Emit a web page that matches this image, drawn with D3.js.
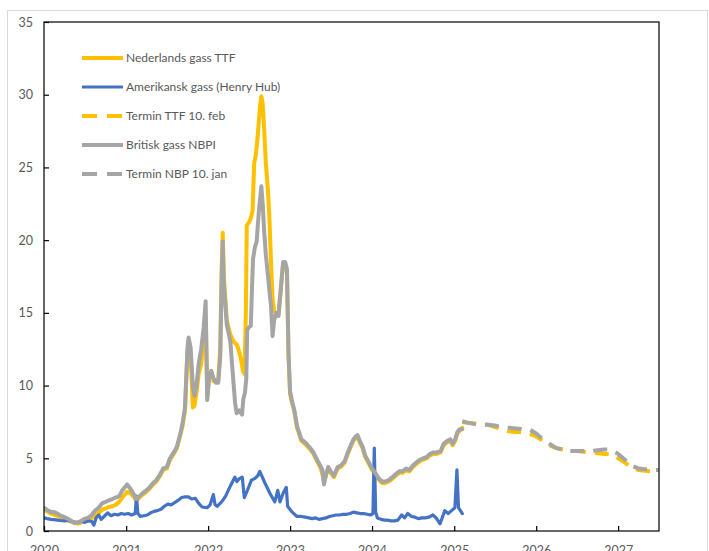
<!DOCTYPE html>
<html>
<head>
<meta charset="utf-8">
<script src="https://cdn.jsdelivr.net/npm/d3@7"></script>
<style>
  body { margin: 0; background: #fff; }
  svg { display: block; }
  text { font-family: Lato, "Open Sans", sans-serif; }
</style>
</head>
<body>
<svg id="chart" width="709" height="551"></svg>
<script>
// Dutch gas (TTF), spot
const ttf = [
  ["2020-01-01",1.45],["2020-01-15",1.35],["2020-02-01",1.2],["2020-02-15",1.1],["2020-03-01",1.05],["2020-03-15",0.95],
  ["2020-04-01",0.85],["2020-04-15",0.75],["2020-05-01",0.65],["2020-05-15",0.6],["2020-06-01",0.5],["2020-06-15",0.6],
  ["2020-07-01",0.65],["2020-07-15",0.75],["2020-08-01",0.9],["2020-08-15",1.05],["2020-09-01",1.25],["2020-09-15",1.45],
  ["2020-10-01",1.55],["2020-10-15",1.65],["2020-11-01",1.7],["2020-11-15",1.8],["2020-12-01",2.0],["2020-12-15",2.3],
  ["2021-01-05",2.7],["2021-01-20",2.6],["2021-02-01",2.4],["2021-02-15",2.1],["2021-03-01",2.3],["2021-03-15",2.5],
  ["2021-04-01",2.7],["2021-04-15",2.9],["2021-05-01",3.2],["2021-05-15",3.4],["2021-06-01",3.8],["2021-06-15",4.2],
  ["2021-07-01",4.3],["2021-07-15",4.9],["2021-08-01",5.3],["2021-08-15",5.7],["2021-09-01",6.7],["2021-09-10",7.3],
  ["2021-09-20",8.3],["2021-10-01",12.3],["2021-10-06",12.8],["2021-10-15",12.0],["2021-10-25",8.5],["2021-11-01",8.6],
  ["2021-11-10",9.5],["2021-11-20",10.8],["2021-12-01",11.5],["2021-12-12",13.0],["2021-12-21",14.8],["2021-12-28",9.3],
  ["2022-01-05",10.5],["2022-01-15",11.0],["2022-01-25",10.3],["2022-02-05",10.3],["2022-02-15",10.4],["2022-02-24",12.5],
  ["2022-03-02",18.0],["2022-03-07",20.5],["2022-03-12",17.5],["2022-03-25",14.5],["2022-04-10",13.5],["2022-04-25",13.0],
  ["2022-05-10",12.8],["2022-05-25",12.0],["2022-06-05",11.0],["2022-06-12",10.8],["2022-06-18",15.0],["2022-06-22",21.0],
  ["2022-07-01",21.2],["2022-07-10",21.5],["2022-07-18",22.0],["2022-07-25",25.3],["2022-08-01",25.8],["2022-08-10",27.2],
  ["2022-08-20",29.2],["2022-08-26",29.9],["2022-09-01",29.4],["2022-09-08",27.5],["2022-09-15",25.3],["2022-09-25",23.3],
  ["2022-10-01",21.5],["2022-10-08",18.5],["2022-10-15",16.0],["2022-10-22",15.1],["2022-11-01",15.0],["2022-11-10",14.8],
  ["2022-11-20",16.5],["2022-12-01",18.4],["2022-12-10",18.4],["2022-12-18",17.8],["2022-12-25",12.0],["2023-01-01",9.4],
  ["2023-01-10",8.8],["2023-01-20",8.2],["2023-02-01",7.1],["2023-02-10",6.7],["2023-02-20",6.2],["2023-03-01",6.1],
  ["2023-03-15",5.9],["2023-04-01",5.6],["2023-04-15",5.3],["2023-05-01",4.8],["2023-05-15",4.4],["2023-05-25",3.9],
  ["2023-06-01",3.4],["2023-06-10",3.8],["2023-06-20",4.3],["2023-07-01",4.0],["2023-07-15",3.7],["2023-08-01",4.3],
  ["2023-08-15",4.4],["2023-09-01",4.7],["2023-09-15",5.3],["2023-10-01",5.9],["2023-10-10",6.2],["2023-10-20",6.4],
  ["2023-10-28",6.5],["2023-11-10",6.0],["2023-11-20",5.7],["2023-12-01",5.1],["2023-12-15",4.7],["2024-01-01",4.2],
  ["2024-01-15",3.9],["2024-02-01",3.5],["2024-02-15",3.3],["2024-03-01",3.3],["2024-03-15",3.4],["2024-04-01",3.6],
  ["2024-04-15",3.8],["2024-05-01",4.0],["2024-05-15",4.0],["2024-06-01",4.2],["2024-06-15",4.1],["2024-07-01",4.4],
  ["2024-07-15",4.6],["2024-08-01",4.8],["2024-08-15",4.9],["2024-09-01",5.0],["2024-09-15",5.2],["2024-10-01",5.3],
  ["2024-10-15",5.3],["2024-11-01",5.4],["2024-11-15",5.9],["2024-12-01",6.1],["2024-12-15",6.2],["2024-12-25",5.9],
  ["2025-01-05",6.2],["2025-01-15",6.7],["2025-01-25",6.9],["2025-02-06",7.1]
];

// US gas (Henry Hub), spot
const henryHub = [
  ["2020-01-01",0.9],["2020-01-15",0.85],["2020-02-01",0.8],["2020-02-15",0.78],["2020-03-01",0.75],["2020-03-15",0.72],
  ["2020-04-01",0.7],["2020-04-15",0.72],["2020-05-01",0.68],["2020-05-15",0.62],["2020-06-01",0.6],["2020-06-15",0.65],
  ["2020-07-01",0.6],["2020-07-15",0.7],["2020-08-01",0.65],["2020-08-10",0.4],["2020-08-20",0.9],["2020-09-01",1.1],
  ["2020-09-12",0.8],["2020-09-25",1.0],["2020-10-10",1.25],["2020-10-25",1.05],["2020-11-10",1.15],["2020-11-25",1.1],
  ["2020-12-10",1.2],["2020-12-25",1.15],["2021-01-10",1.2],["2021-01-25",1.1],["2021-02-10",1.2],["2021-02-16",2.4],
  ["2021-02-22",1.2],["2021-03-05",1.0],["2021-03-20",1.05],["2021-04-05",1.1],["2021-04-20",1.25],["2021-05-05",1.35],
  ["2021-05-20",1.4],["2021-06-05",1.5],["2021-06-20",1.7],["2021-07-05",1.85],["2021-07-20",1.8],["2021-08-05",1.95],
  ["2021-08-20",2.1],["2021-09-05",2.3],["2021-09-20",2.35],["2021-10-05",2.35],["2021-10-20",2.2],["2021-11-05",2.25],
  ["2021-11-20",1.9],["2021-12-05",1.65],["2021-12-27",1.6],["2022-01-10",1.8],["2022-01-24",2.5],["2022-02-01",1.8],
  ["2022-02-10",1.7],["2022-03-02",2.0],["2022-03-20",2.4],["2022-04-07",3.0],["2022-04-20",3.4],["2022-04-30",3.7],
  ["2022-05-09",3.4],["2022-05-20",3.6],["2022-06-02",3.7],["2022-06-11",2.3],["2022-06-25",2.8],["2022-07-13",3.5],
  ["2022-07-27",3.6],["2022-08-10",3.8],["2022-08-19",4.1],["2022-09-11",3.3],["2022-10-03",2.6],["2022-10-25",2.0],
  ["2022-11-07",2.8],["2022-11-17",2.0],["2022-12-01",2.6],["2022-12-15",3.0],["2022-12-21",1.7],["2023-01-10",1.3],
  ["2023-02-01",1.0],["2023-02-20",1.0],["2023-03-10",0.95],["2023-03-25",0.9],["2023-04-10",0.85],["2023-04-25",0.9],
  ["2023-05-10",0.8],["2023-05-25",0.85],["2023-06-10",0.9],["2023-06-25",1.0],["2023-07-10",1.05],["2023-07-25",1.1],
  ["2023-08-10",1.1],["2023-08-25",1.15],["2023-09-10",1.15],["2023-09-25",1.2],["2023-10-10",1.3],["2023-10-25",1.25],
  ["2023-11-10",1.2],["2023-11-25",1.2],["2023-12-10",1.15],["2023-12-25",1.1],["2024-01-05",1.2],["2024-01-11",5.7],
  ["2024-01-17",1.3],["2024-01-25",0.9],["2024-02-10",0.8],["2024-02-25",0.75],["2024-03-10",0.75],["2024-03-25",0.7],
  ["2024-04-10",0.7],["2024-04-25",0.75],["2024-05-12",1.1],["2024-05-25",0.9],["2024-06-08",1.2],["2024-06-25",1.0],
  ["2024-07-10",0.95],["2024-07-25",0.85],["2024-08-10",0.9],["2024-08-25",0.9],["2024-09-10",0.95],["2024-09-28",1.1],
  ["2024-10-12",0.9],["2024-10-30",0.5],["2024-11-20",1.4],["2024-12-05",1.2],["2024-12-20",1.4],["2025-01-04",1.6],
  ["2025-01-13",4.2],["2025-01-20",1.6],["2025-02-06",1.2]
];

// British gas (NBP), spot
const nbp = [
  ["2020-01-01",1.6],["2020-01-15",1.45],["2020-02-01",1.3],["2020-02-15",1.3],["2020-03-01",1.2],["2020-03-15",1.05],
  ["2020-04-01",0.95],["2020-04-15",0.85],["2020-05-01",0.7],["2020-05-15",0.55],["2020-06-01",0.6],["2020-06-15",0.7],
  ["2020-07-01",0.85],["2020-07-15",0.9],["2020-08-01",1.1],["2020-08-15",1.4],["2020-09-01",1.6],["2020-09-15",1.9],
  ["2020-10-01",2.0],["2020-10-15",2.1],["2020-11-01",2.2],["2020-11-15",2.3],["2020-12-01",2.4],["2020-12-15",2.8],
  ["2021-01-05",3.2],["2021-01-20",2.9],["2021-02-01",2.6],["2021-02-15",2.2],["2021-03-01",2.4],["2021-03-15",2.6],
  ["2021-04-01",2.8],["2021-04-15",3.0],["2021-05-01",3.3],["2021-05-15",3.5],["2021-06-01",3.9],["2021-06-15",4.3],
  ["2021-07-01",4.4],["2021-07-15",5.0],["2021-08-01",5.4],["2021-08-15",5.8],["2021-09-01",6.8],["2021-09-10",7.5],
  ["2021-09-20",8.5],["2021-10-01",12.6],["2021-10-06",13.3],["2021-10-15",12.6],["2021-10-25",10.0],["2021-11-01",9.3],
  ["2021-11-10",10.0],["2021-11-20",11.5],["2021-12-01",12.5],["2021-12-12",14.0],["2021-12-21",15.8],["2021-12-28",9.0],
  ["2022-01-05",10.5],["2022-01-15",11.0],["2022-01-25",10.5],["2022-02-05",10.2],["2022-02-15",10.2],["2022-02-24",12.0],
  ["2022-03-02",17.0],["2022-03-07",19.9],["2022-03-12",17.0],["2022-03-25",14.2],["2022-04-10",13.0],["2022-04-20",11.0],
  ["2022-05-01",8.8],["2022-05-08",8.1],["2022-05-20",8.3],["2022-06-01",8.0],["2022-06-07",9.1],["2022-06-14",9.5],
  ["2022-06-20",10.5],["2022-06-24",13.8],["2022-07-01",14.0],["2022-07-10",14.1],["2022-07-15",16.5],["2022-07-20",18.7],
  ["2022-07-28",19.5],["2022-08-05",19.9],["2022-08-15",22.0],["2022-08-26",23.7],["2022-09-01",22.5],["2022-09-08",20.5],
  ["2022-09-15",19.0],["2022-09-25",17.5],["2022-10-01",16.5],["2022-10-08",15.5],["2022-10-15",13.4],["2022-10-22",14.5],
  ["2022-11-01",15.0],["2022-11-10",14.8],["2022-11-20",16.5],["2022-12-01",18.5],["2022-12-10",18.5],["2022-12-18",18.0],
  ["2022-12-25",12.2],["2023-01-01",9.6],["2023-01-10",8.9],["2023-01-20",8.3],["2023-02-01",7.2],["2023-02-10",6.8],
  ["2023-02-20",6.3],["2023-03-01",6.2],["2023-03-15",6.0],["2023-04-01",5.7],["2023-04-15",5.4],["2023-05-01",4.9],
  ["2023-05-15",4.5],["2023-05-25",4.2],["2023-06-01",3.2],["2023-06-10",3.9],["2023-06-20",4.4],["2023-07-01",4.1],
  ["2023-07-15",3.8],["2023-08-01",4.4],["2023-08-15",4.5],["2023-09-01",4.8],["2023-09-15",5.4],["2023-10-01",6.0],
  ["2023-10-10",6.3],["2023-10-20",6.5],["2023-10-28",6.6],["2023-11-10",6.1],["2023-11-20",5.8],["2023-12-01",5.2],
  ["2023-12-15",4.8],["2024-01-01",4.3],["2024-01-15",4.0],["2024-02-01",3.6],["2024-02-15",3.4],["2024-03-01",3.4],
  ["2024-03-15",3.5],["2024-04-01",3.7],["2024-04-15",3.9],["2024-05-01",4.1],["2024-05-15",4.1],["2024-06-01",4.3],
  ["2024-06-15",4.2],["2024-07-01",4.5],["2024-07-15",4.7],["2024-08-01",4.9],["2024-08-15",5.0],["2024-09-01",5.1],
  ["2024-09-15",5.3],["2024-10-01",5.4],["2024-10-15",5.4],["2024-11-01",5.5],["2024-11-15",6.0],["2024-12-01",6.2],
  ["2024-12-15",6.3],["2024-12-25",6.0],["2025-01-05",6.3],["2025-01-15",6.8],["2025-01-25",7.0],["2025-02-06",7.0]
];

// Forward curves
const ttfForward = [
  ["2025-02-06",7.5],["2025-03-01",7.45],["2025-04-01",7.4],["2025-05-01",7.35],["2025-06-01",7.3],["2025-07-01",7.15],
  ["2025-08-01",7.0],["2025-09-01",6.85],["2025-10-01",6.8],["2025-11-01",6.8],["2025-12-01",6.7],["2026-01-01",6.5],
  ["2026-02-01",6.2],["2026-03-01",5.9],["2026-04-01",5.7],["2026-05-01",5.6],["2026-06-01",5.5],["2026-07-01",5.5],
  ["2026-08-01",5.45],["2026-09-01",5.4],["2026-10-01",5.35],["2026-11-01",5.3],["2026-12-01",5.3],["2027-01-01",5.0],
  ["2027-02-01",4.7],["2027-03-01",4.35],["2027-04-01",4.2],["2027-05-01",4.15],["2027-06-01",4.1],["2027-07-01",4.1]
];
const nbpForward = [
  ["2025-02-06",7.55],["2025-03-01",7.45],["2025-04-01",7.35],["2025-05-01",7.3],["2025-06-01",7.3],["2025-07-01",7.25],
  ["2025-08-01",7.15],["2025-09-01",7.1],["2025-10-01",7.05],["2025-11-01",7.0],["2025-12-01",7.0],["2026-01-01",6.7],
  ["2026-02-01",6.3],["2026-03-01",6.0],["2026-04-01",5.7],["2026-05-01",5.6],["2026-06-01",5.5],["2026-07-01",5.5],
  ["2026-08-01",5.5],["2026-09-01",5.5],["2026-10-01",5.55],["2026-11-01",5.6],["2026-12-01",5.6],["2027-01-01",5.3],
  ["2027-02-01",4.9],["2027-03-01",4.5],["2027-04-01",4.3],["2027-05-01",4.25],["2027-06-01",4.2],["2027-07-01",4.2]
];

const yTicks = [0, 5, 10, 15, 20, 25, 30, 35];
const yearTicks = ["2020","2021","2022","2023","2024","2025","2026","2027"];

const seriesInfo = [
  { label: "Nederlands gass TTF",         data: ttf,        color: "#FFC000", width: 4,   dash: null },
  { label: "Amerikansk gass (Henry Hub)", data: henryHub,   color: "#4472C4", width: 3.2, dash: null },
  { label: "Termin TTF 10. feb",          data: ttfForward, color: "#FFC000", width: 4,   dash: "14,9" },
  { label: "Britisk gass NBPI",           data: nbp,        color: "#A5A5A5", width: 4,   dash: null },
  { label: "Termin NBP 10. jan",          data: nbpForward, color: "#A5A5A5", width: 4,   dash: "14,9" }
];

const svg = d3.select("#chart");
const plot = { left: 44, top: 22, right: 659, bottom: 531 };
const parse = d3.timeParse("%Y-%m-%d");

const x = d3.scaleTime()
  .domain([new Date(2020, 0, 1), new Date(2027, 6, 2)])
  .range([plot.left, plot.right]);
const y = d3.scaleLinear().domain([0, 35]).range([plot.bottom, plot.top]);

// outer frame
svg.append("rect")
  .attr("x", 7.5).attr("y", 10.5).attr("width", 700).attr("height", 600)
  .attr("fill", "#fff").attr("stroke", "#d9d9d9").attr("stroke-width", 1);

svg.append("clipPath").attr("id", "plotClip")
  .append("rect")
  .attr("x", plot.left).attr("y", plot.top)
  .attr("width", plot.right - plot.left).attr("height", plot.bottom - plot.top);

// series
const line = d3.line()
  .x(d => x(parse(d[0])))
  .y(d => y(d[1]));

const lines = svg.append("g").attr("clip-path", "url(#plotClip)");
seriesInfo.forEach(s => {
  lines.append("path")
    .datum(s.data)
    .attr("d", line)
    .attr("fill", "none")
    .attr("stroke", s.color)
    .attr("stroke-width", s.width)
    .attr("stroke-linejoin", "round")
    .attr("stroke-linecap", s.dash ? "butt" : "round")
    .attr("stroke-dasharray", s.dash);
});

// plot frame
svg.append("rect")
  .attr("x", plot.left).attr("y", plot.top)
  .attr("width", plot.right - plot.left).attr("height", plot.bottom - plot.top)
  .attr("fill", "none").attr("stroke", "#000").attr("stroke-width", 1.2);

// axes
const yAxis = d3.axisLeft(y).tickValues(yTicks).tickSize(-5).tickPadding(11).tickFormat(d3.format("d"));
const yG = svg.append("g").attr("transform", `translate(${plot.left},0)`).call(yAxis);

const xAxis = d3.axisBottom(x)
  .tickValues(yearTicks.map(t => new Date(+t, 0, 1)))
  .tickSize(-5).tickPadding(15).tickFormat(d3.timeFormat("%Y"));
const xG = svg.append("g").attr("transform", `translate(0,${plot.bottom})`).call(xAxis);

[yG, xG].forEach(g => {
  g.select(".domain").remove();
  g.selectAll(".tick line").attr("stroke", "#000").attr("stroke-width", 1.2);
  g.selectAll(".tick text")
    .attr("fill", "#595959")
    .style("font-family", "Lato, 'Open Sans', sans-serif")
    .style("font-size", "12.5px");
});

// legend
const legend = svg.append("g");
const legendY = [58, 87, 116, 145, 174];
seriesInfo.forEach((s, i) => {
  const g = legend.append("g").attr("transform", `translate(0,${legendY[i]})`);
  g.append("line")
    .attr("x1", 82).attr("x2", 123).attr("y1", 0).attr("y2", 0)
    .attr("stroke", s.color).attr("stroke-width", s.width)
    .attr("stroke-dasharray", s.dash ? "15,10" : null);
  g.append("text")
    .attr("x", 126).attr("y", 0).attr("dy", "0.35em")
    .attr("fill", "#595959")
    .style("font-size", "12px")
    .text(s.label);
});
</script>
</body>
</html>
